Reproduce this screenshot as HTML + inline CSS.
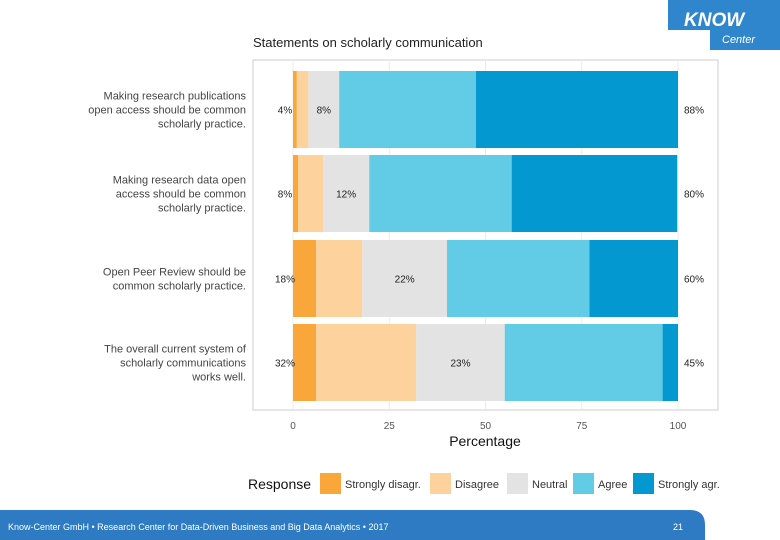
<!DOCTYPE html>
<html><head><meta charset="utf-8"><style>
body{margin:0;width:780px;height:540px;overflow:hidden;background:#fff;font-family:"Liberation Sans",sans-serif;position:relative}
</style></head><body>
<svg width="780" height="540" style="position:absolute;left:0;top:0" id="chart">
 <rect x="668" y="0" width="112" height="30" fill="#2f86cc"/>
 <rect x="710" y="28" width="70" height="22" fill="#2f86cc"/>
 <text x="684" y="26" font-size="19" font-weight="bold" font-style="italic" fill="#fff">KNOW</text>
 <text x="722" y="43" font-size="11" font-style="italic" fill="#fff">Center</text>
 <text x="253" y="47" font-size="13" fill="#222">Statements on scholarly communication</text>
 <rect x="253" y="60" width="465" height="350" fill="#fff" stroke="#ccc" stroke-width="1"/>
 <g id="bars"></g>
 <g id="labels"></g>
 <text x="485" y="446" font-size="14" fill="#111" text-anchor="middle">Percentage</text>
 <g id="legend"></g>
 <path d="M0 510 H690 Q705 510 705 525 V540 H0 Z" fill="#2e7bc4"/>
 <text x="8" y="530" font-size="9" fill="#fff">Know-Center GmbH • Research Center for Data-Driven Business and Big Data Analytics • 2017</text>
 <text x="678" y="530" font-size="9" fill="#fff" text-anchor="middle">21</text>
</svg>
<script>
const statements=[["Making research publications","open access should be common","scholarly practice."],["Making research data open","access should be common","scholarly practice."],["Open Peer Review should be","common scholarly practice."],["The overall current system of","scholarly communications","works well."]];
const stronglyDisagree=[1,1.3,6,6];
const disagree=[3,6.5,12,26];
const neutral=[8,12,22,23];
const agree=[35.5,37,37,41];
const stronglyAgree=[52.5,43,23,4];
const leftLabels=["4%","8%","18%","32%"];
const midLabels=["8%","12%","22%","23%"];
const rightLabels=["88%","80%","60%","45%"];
const xTicks=[0,25,50,75,100];
const categories=["Strongly disagr.","Disagree","Neutral","Agree","Strongly agr."];
const colors=["#f9a63a","#fdd29c","#e3e3e3","#62cbe6","#0498d0"];
const NS="http://www.w3.org/2000/svg";
const x=v=>293+v*3.85;
const rowTop=[71,155,240,324],rowH=77;
function mk(tag,attrs,parent,txt){const e=document.createElementNS(NS,tag);for(const k in attrs)e.setAttribute(k,attrs[k]);if(txt!==undefined)e.textContent=txt;parent.appendChild(e);return e;}
const svg=document.getElementById('chart'),bars=document.getElementById('bars'),labels=document.getElementById('labels'),legend=document.getElementById('legend');
// grid
xTicks.forEach(t=>{const l=mk('line',{x1:x(t),x2:x(t),y1:60,y2:410,stroke:'#ebebeb'},bars);


const tx=mk('text',{x:x(t),y:429,'font-size':10,fill:'#555','text-anchor':'middle'},labels,t);

});
const series=[stronglyDisagree,disagree,neutral,agree,stronglyAgree];
for(let i=0;i<4;i++){let c=0;series.forEach((s,j)=>{const r=mk('rect',{x:x(c),y:rowTop[i],width:s[i]*3.85,height:rowH,fill:colors[j]},bars);


c+=s[i];});
const cy=rowTop[i]+rowH/2+4;
const a=mk('text',{x:285,y:cy,'font-size':10,fill:'#222','text-anchor':'middle'},labels,leftLabels[i]);


const mx=x(stronglyDisagree[i]+disagree[i]+neutral[i]/2);
const b=mk('text',{x:mx,y:cy,'font-size':10,fill:'#222','text-anchor':'middle'},labels,midLabels[i]);


const d=mk('text',{x:694,y:cy,'font-size':10,fill:'#222','text-anchor':'middle'},labels,rightLabels[i]);


const lines=statements[i];const y0=rowTop[i]+rowH/2-(lines.length-1)*7+4;
lines.forEach((ln,k)=>{const t=mk('text',{x:246,y:y0+k*14,'font-size':11,fill:'#444','text-anchor':'end'},labels,ln);

});}
const lt=mk('text',{x:248,y:489,'font-size':14,fill:'#111'},legend,'Response');


const lx=[320,430,507,573,633];
categories.forEach((c,j)=>{const r=mk('rect',{x:lx[j],y:473,width:21,height:21,fill:colors[j]},legend);


const t=mk('text',{x:lx[j]+25,y:488,'font-size':11,fill:'#333'},legend,c);

});
</script>
</body></html>
